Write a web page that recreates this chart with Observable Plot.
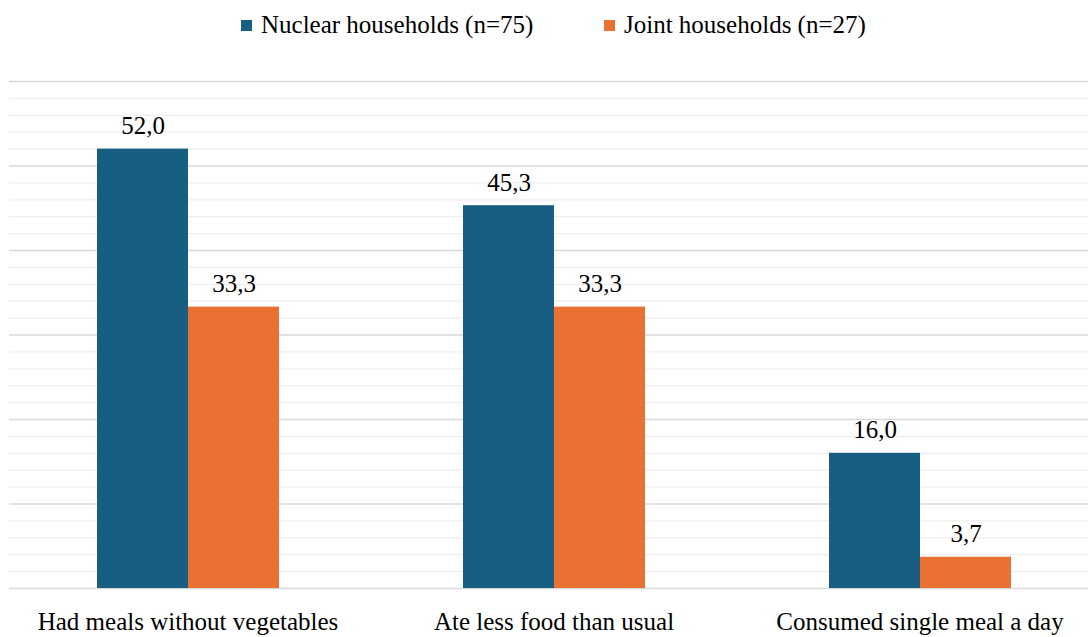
<!DOCTYPE html>
<html><head><meta charset="utf-8">
<script src="https://cdn.jsdelivr.net/npm/d3@7"></script>
<script src="https://cdn.jsdelivr.net/npm/@observablehq/plot@0.6"></script>
<style>
body{margin:0;background:#fff;font-family:"Liberation Serif","DejaVu Serif",serif;}
#legend{position:relative;height:56px;font-size:25px;line-height:26px;color:#000;}
.item{position:absolute;top:12px;display:flex;align-items:center;white-space:nowrap;}
.sw{width:11px;height:11px;margin-right:9px;}
#wrap{position:relative;width:1088px;height:581px;}
#wrap svg{position:absolute;left:0;top:0;}
</style></head>
<body>
<div id="legend"></div>
<div id="wrap"></div>
<script>
const categories = ["Had meals without vegetables", "Ate less food than usual", "Consumed single meal a day"];
const series = ["Nuclear households (n=75)", "Joint households (n=27)"];
const nuclear = [52.0, 45.3, 16.0];
const joint = [33.3, 33.3, 3.7];
const colors = ["#175e82", "#e97132"];
const majorTicks = [0, 10, 20, 30, 40, 50, 60];
const minorTicks = [2, 4, 6, 8, 12, 14, 16, 18, 22, 24, 26, 28, 32, 34, 36, 38, 42, 44, 46, 48, 52, 54, 56, 58];
const legendLeft = [241, 604];

const rows = [];
categories.forEach((c, i) => {
  rows.push({category: c, series: series[0], value: nuclear[i]});
  rows.push({category: c, series: series[1], value: joint[i]});
});
const fmt = v => v.toFixed(1).replace(".", ",");

const legend = document.getElementById("legend");
series.forEach((s, i) => {
  const it = document.createElement("div"); it.className = "item"; it.style.left = legendLeft[i] + "px";
  const sw = document.createElement("span"); sw.className = "sw"; sw.style.background = colors[i];
  const t = document.createElement("span"); t.textContent = s;
  it.append(sw, t); legend.append(it);
});

const FONT = "'Liberation Serif', 'DejaVu Serif', serif";
const common = {
  width: 1088, height: 581, marginTop: 25, marginBottom: 49, marginLeft: 9, marginRight: 0,
  y: {domain: [0, 60], axis: null},
  style: {background: "transparent", fontFamily: FONT, fontSize: "25px", color: "#000"}
};

const grid = Plot.plot({
  ...common,
  marks: [
    Plot.ruleY(minorTicks, {stroke: "#eeeeee", strokeWidth: 1.3}),
    Plot.ruleY(majorTicks, {stroke: "#d9d9d9", strokeWidth: 1.5})
  ]
});

const bars = Plot.plot({
  ...common,
  fx: {domain: categories, range: [4, 1103], paddingInner: 0.5, paddingOuter: 0.25, label: null, axis: "bottom", tickSize: 0, tickPadding: 24},
  x: {domain: series, padding: 0, axis: null},
  color: {domain: series, range: colors},
  marks: [
    Plot.barY(rows, {fx: "category", x: "series", y: "value", fill: "series"}),
    Plot.text(rows, {fx: "category", x: "series", y: "value", text: d => fmt(d.value), dy: -15, lineAnchor: "bottom", fontSize: 25, fontFamily: FONT, fill: "#000"})
  ]
});

const wrap = document.getElementById("wrap");
wrap.append(grid, bars);
</script>
</body></html>
